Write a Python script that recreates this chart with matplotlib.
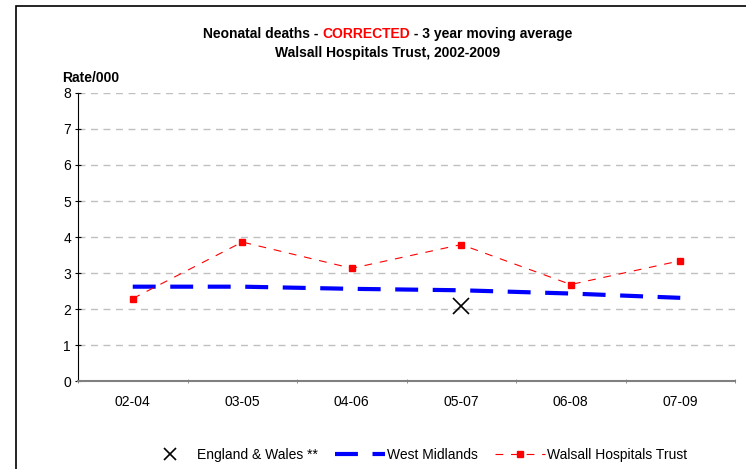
import matplotlib
matplotlib.use("Agg")
import matplotlib.pyplot as plt
from matplotlib.lines import Line2D
from matplotlib.patches import Rectangle
import numpy as np

plt.rcParams['font.family'] = ['Liberation Sans', 'DejaVu Sans']

categories = ["02-04", "03-05", "04-06", "05-07", "06-08", "07-09"]
west_midlands = [2.62, 2.62, 2.56, 2.52, 2.43, 2.31]
walsall = [2.29, 3.86, 3.13, 3.79, 2.68, 3.34]
england_wales_cat = "05-07"
england_wales_val = [2.09]

W, H = 746, 469
fig = plt.figure(figsize=(W/100, H/100), dpi=100)

# outer chart frame (right and bottom edges lie outside the picture)
fig.patches.append(Rectangle((16/W, -0.2), 1.3, 1.2 - 6/H, transform=fig.transFigure,
                             fill=False, edgecolor='black', linewidth=1.2, zorder=0))

ax = fig.add_axes([78/W, 1 - 381/H, (735-78)/W, (381-93)/H])
x = np.arange(len(categories))
ax.set_xlim(-0.5, len(categories) - 0.5)
ax.set_ylim(0, 8)
ax.set_yticks(range(0, 9))
ax.yaxis.grid(True, color='#c0c0c0', linestyle=(0, (5, 4)), linewidth=1)
ax.set_axisbelow(True)
ax.set_xticks(x)
ax.set_xticklabels(categories)
ax.set_xticks(np.arange(-0.5, len(categories)), minor=True)
ax.tick_params(axis='x', which='major', length=0, pad=10, labelsize=10)
ax.tick_params(axis='x', which='minor', length=3, direction='inout', color='#808080')
ax.tick_params(axis='y', length=4, direction='inout', labelsize=10, pad=3)
for s in ['top', 'right']:
    ax.spines[s].set_visible(False)
ax.spines['left'].set_color('black')
ax.spines['bottom'].set_color('#808080')
ax.spines['bottom'].set_linewidth(1.5)

ax.plot(x, west_midlands, color='#0000ff', linewidth=3, linestyle=(0, (5.5, 3.5)),
        solid_capstyle='butt', dash_capstyle='butt', zorder=3)
ax.plot(x, walsall, color='#ff0000', linewidth=0.8, linestyle=(0, (7, 7)),
        marker='s', markersize=5, markeredgecolor='#ff0000', markerfacecolor='#ff0000', zorder=4)
ax.plot([categories.index(england_wales_cat)], england_wales_val, linestyle='none',
        marker='x', markersize=11, markeredgewidth=1.2, color='black', zorder=5)

fig.text(62/W, 1 - 78/H, "Rate/000", fontsize=10, fontweight='bold', va='center', ha='left')

# title with coloured part
parts = [("Neonatal deaths - ", 'black'), ("CORRECTED", '#ff0000'), (" - 3 year moving average", 'black')]
fig.canvas.draw()
r = fig.canvas.get_renderer()
texts = []
widths = []
for s, c in parts:
    t = fig.text(0, 1 - 34/H, s, fontsize=10, fontweight='bold', color=c, va='center', ha='left')
    widths.append(t.get_window_extent(r).width)
    texts.append(t)
total = sum(widths)
start = 388 - total / 2
for t, w in zip(texts, widths):
    t.set_x(start / W)
    start += w
fig.text(388/W, 1 - 53/H, "Walsall Hospitals Trust, 2002-2009", fontsize=10, fontweight='bold',
         ha='center', va='center')

handles = [
    Line2D([], [], linestyle='none', marker='x', markersize=9, markeredgewidth=1.2, color='black'),
    Line2D([], [], color='#0000ff', linewidth=3, linestyle=(0, (5.5, 3.5))),
    Line2D([], [], color='#ff0000', linewidth=0.8, linestyle=(0, (7, 7)), marker='s', markersize=5),
]
labels = ["England & Wales **", "West Midlands", "Walsall Hospitals Trust"]
fig.legend(handles, labels, loc='center', bbox_to_anchor=(416/W, 1 - 455/H), ncol=3,
           frameon=False, fontsize=10, handlelength=3.6, handletextpad=0.15, columnspacing=1.2)

fig.savefig("out.png", dpi=100)
